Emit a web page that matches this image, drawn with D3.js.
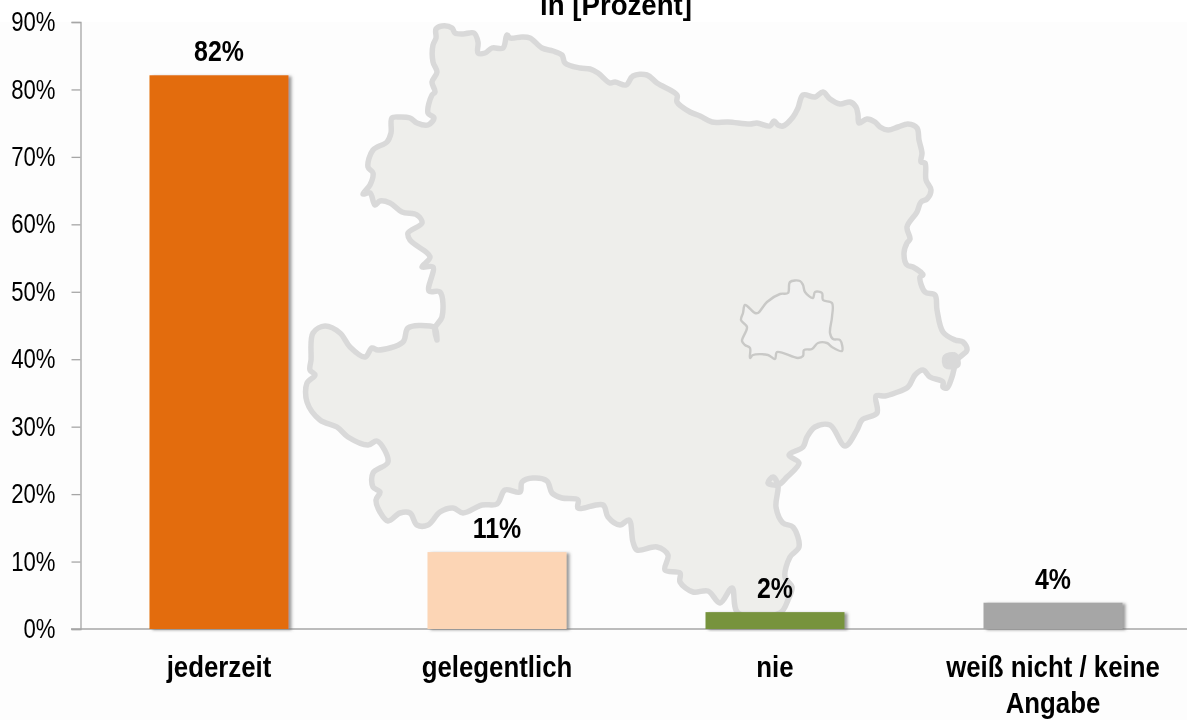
<!DOCTYPE html>
<html>
<head>
<meta charset="utf-8">
<script src="https://cdn.jsdelivr.net/npm/d3@7"></script>
<style>
  html, body { margin: 0; padding: 0; background: #fdfdfd; overflow: hidden; }
  text { font-family: "Liberation Sans", Arial, sans-serif; fill: #000; filter: blur(0.35px); }
</style>
</head>
<body>
<div id="chart"></div>
<script>
// chart values
const categories = ["jederzeit", "gelegentlich", "nie", "weiß nicht / keine Angabe"];
const values = [82.1, 11.4, 2.5, 3.9];
const valueLabels = ["82%", "11%", "2%", "4%"];
const barColors = ["#e36c0a", "#fcd5b5", "#77933c", "#a6a6a6"];
const yTicks = [0, 10, 20, 30, 40, 50, 60, 70, 80, 90];

// background map of Niederösterreich, traced in page pixels
const mapOutline = [
  [436,29],[442,26],[452,28],[455,33],[463,34],[474,33],[478,42],[478,53],[485,53],[492,48],[503,48],[507,35],[510,38],
  [522,37],[530,38],[542,48],[553,51],[562,55],[565,63],[580,68],[590,69],[598,73],[610,83],[615,82],[626,85],[633,76],
  [647,75],[657,83],[677,95],[677,102],[690,112],[700,116],[712,122],[728,122],[750,124],[757,123],[770,126],[774,121],
  [778,125],[783,126],[793,117],[798,108],[803,95],[815,97],[823,92],[830,99],[840,104],[850,102],[856,107],[858,115],
  [859,123],[867,119],[875,122],[880,127],[888,130],[898,127],[908,124],[917,128],[919,140],[922,153],[921,162],[925,163],
  [926,180],[931,190],[927,199],[921,202],[917,212],[907,227],[910,239],[907,243],[904,253],[907,265],[913,267],[923,275],
  [920,277],[925,292],[935,295],[937,310],[943,332],[955,340],[963,342],[967,350],[957,360],[952,377],[947,388],[943,387],
  [943,382],[930,377],[923,370],[915,375],[908,387],[895,393],[885,396],[876,396],[877,413],[862,420],[857,430],[845,446],
  [830,425],[815,427],[807,437],[803,447],[789,455],[799,463],[787,477],[778,485],[768,483],[773,477],[778,485],[776,507],
  [783,523],[793,527],[799,547],[790,557],[785,577],[792,587],[788,600],[780,613],[738,613],[732,588],[720,603],[708,591],
  [693,592],[680,582],[680,573],[665,570],[668,555],[657,547],[637,550],[633,542],[629,520],[620,525],[608,517],[603,505],
  [578,508],[578,500],[562,498],[552,493],[547,481],[533,478],[522,482],[520,492],[505,490],[497,504],[482,505],[463,513],
  [453,508],[440,512],[428,525],[417,525],[410,513],[400,513],[388,521],[380,512],[376,500],[380,492],[373,487],[373,473],
  [388,462],[377,441],[368,445],[348,437],[337,427],[320,420],[307,402],[307,383],[315,375],[310,370],[311,360],[313,333],
  [325,326],[340,333],[350,347],[365,357],[372,348],[378,350],[403,342],[408,328],[430,326],[435,328],[437,340],[435,328],
  [442,317],[440,292],[429,291],[433,267],[422,267],[430,257],[410,240],[408,233],[422,223],[417,215],[402,212],[390,203],
  [380,201],[375,205],[370,193],[363,194],[370,185],[373,173],[368,167],[373,150],[387,142],[391,133],[392,118],[400,117],
  [410,118],[417,123],[428,125],[434,118],[428,113],[432,95],[435,92],[432,82],[437,72],[433,62],[433,45],[436,38]
];
const mapLake = [[945,357],[955,355],[958,365],[946,366]];
const viennaOutline = [
  [745,305],[755,313],[758,313],[767,302],[780,294],[788,293],[790,282],[800,281],[803,285],[805,292],[813,298],[815,292],
  [822,293],[823,300],[832,303],[832,317],[830,333],[833,339],[840,340],[842,351],[832,347],[827,343],[818,343],[812,349],
  [804,350],[803,356],[798,358],[777,352],[775,359],[768,355],[753,355],[750,358],[750,348],[745,345],[742,341],[747,327],
  [741,320],[743,313]
];

const width = 1187;
const height = 720;

const svg = d3.select("#chart").append("svg")
    .attr("width", width)
    .attr("height", height)
    .style("display", "block");

// bars have a small soft shadow on the right
const shadow = svg.append("defs").append("filter")
    .attr("id", "barShadow")
    .attr("x", "-10%").attr("y", "-10%")
    .attr("width", "125%").attr("height", "125%");
shadow.append("feDropShadow")
    .attr("dx", 3).attr("dy", 1)
    .attr("stdDeviation", 1.6)
    .attr("flood-color", "#666")
    .attr("flood-opacity", 0.65);

// white strip above the plot
svg.append("rect").attr("width", width).attr("height", 22).attr("fill", "#fff");

const x = d3.scaleBand()
    .domain(categories)
    .range([80, 1192])
    .paddingInner(0.5)
    .paddingOuter(0.25);

const y = d3.scaleLinear()
    .domain([0, 90])
    .range([629, 22]);

// squeeze a text horizontally, the original font is condensed
function squeeze(sel, ratio) {
    sel.each(function() {
        const w = this.getComputedTextLength();
        d3.select(this)
            .attr("textLength", w * ratio)
            .attr("lengthAdjust", "spacingAndGlyphs");
    });
}

// map goes behind everything
const line = d3.line().curve(d3.curveCatmullRomClosed.alpha(0.5));
const mapGroup = svg.append("g").attr("stroke-linejoin", "round").attr("stroke-linecap", "round");
mapGroup.append("path")
    .attr("d", line(mapOutline))
    .attr("fill", "#eeeeeb")
    .attr("stroke", "#d9d9d9")
    .attr("stroke-width", 5.5);
mapGroup.append("path")
    .attr("d", line(mapLake))
    .attr("fill", "#d9d9d9")
    .attr("stroke", "#d9d9d9")
    .attr("stroke-width", 5);
mapGroup.append("path")
    .attr("d", line(viennaOutline))
    .attr("fill", "#f1f1f0")
    .attr("stroke", "#c9c9c7")
    .attr("stroke-width", 2.4);

// y axis
const yAxis = svg.append("g")
    .attr("transform", "translate(80.5,0)")
    .call(d3.axisLeft(y).tickValues(yTicks).tickFormat(d => d + "%").tickSize(9).tickPadding(16));
yAxis.selectAll("path, line").attr("stroke", "#a6a6a6").attr("stroke-width", 1.3);
yAxis.selectAll("text")
    .attr("font-size", 27)
    .style("font-family", "'Liberation Sans', Arial, sans-serif")
    .call(squeeze, 0.82);

// x axis
const xAxis = svg.append("g")
    .attr("transform", "translate(0,629)")
    .call(d3.axisBottom(x).tickSize(0).tickFormat(""));
xAxis.select("path").attr("stroke", "#a6a6a6").attr("stroke-width", 1.3)
    .attr("d", "M71,0H1187");

// bars
svg.selectAll("rect.bar")
    .data(categories)
    .join("rect")
    .attr("class", "bar")
    .attr("x", d => x(d))
    .attr("y", (d, i) => y(values[i]))
    .attr("width", x.bandwidth())
    .attr("height", (d, i) => y(0) - y(values[i]))
    .attr("fill", (d, i) => barColors[i])
    .attr("filter", "url(#barShadow)");

// value labels
svg.selectAll("text.value")
    .data(categories)
    .join("text")
    .attr("class", "value")
    .attr("x", d => x(d) + x.bandwidth() / 2)
    .attr("y", (d, i) => y(values[i]) - 14)
    .attr("text-anchor", "middle")
    .attr("font-size", 30)
    .attr("font-weight", "bold")
    .text((d, i) => valueLabels[i])
    .call(squeeze, 0.83);

// category labels, the last one wraps
const categoryLines = [["jederzeit"], ["gelegentlich"], ["nie"], ["weiß nicht / keine", "Angabe"]];
categories.forEach((c, i) => {
    categoryLines[i].forEach((t, j) => {
        svg.append("text")
            .attr("x", x(c) + x.bandwidth() / 2)
            .attr("y", 677 + j * 36)
            .attr("text-anchor", "middle")
            .attr("font-size", 30)
            .attr("font-weight", "bold")
            .text(t)
            .call(squeeze, 0.86);
    });
});

// title, first line is cut off by the page edge
svg.append("text")
    .attr("x", 616)
    .attr("y", 15)
    .attr("text-anchor", "middle")
    .attr("font-size", 30)
    .attr("font-weight", "bold")
    .text("in [Prozent]")
    .call(squeeze, 0.92);
</script>
</body>
</html>
